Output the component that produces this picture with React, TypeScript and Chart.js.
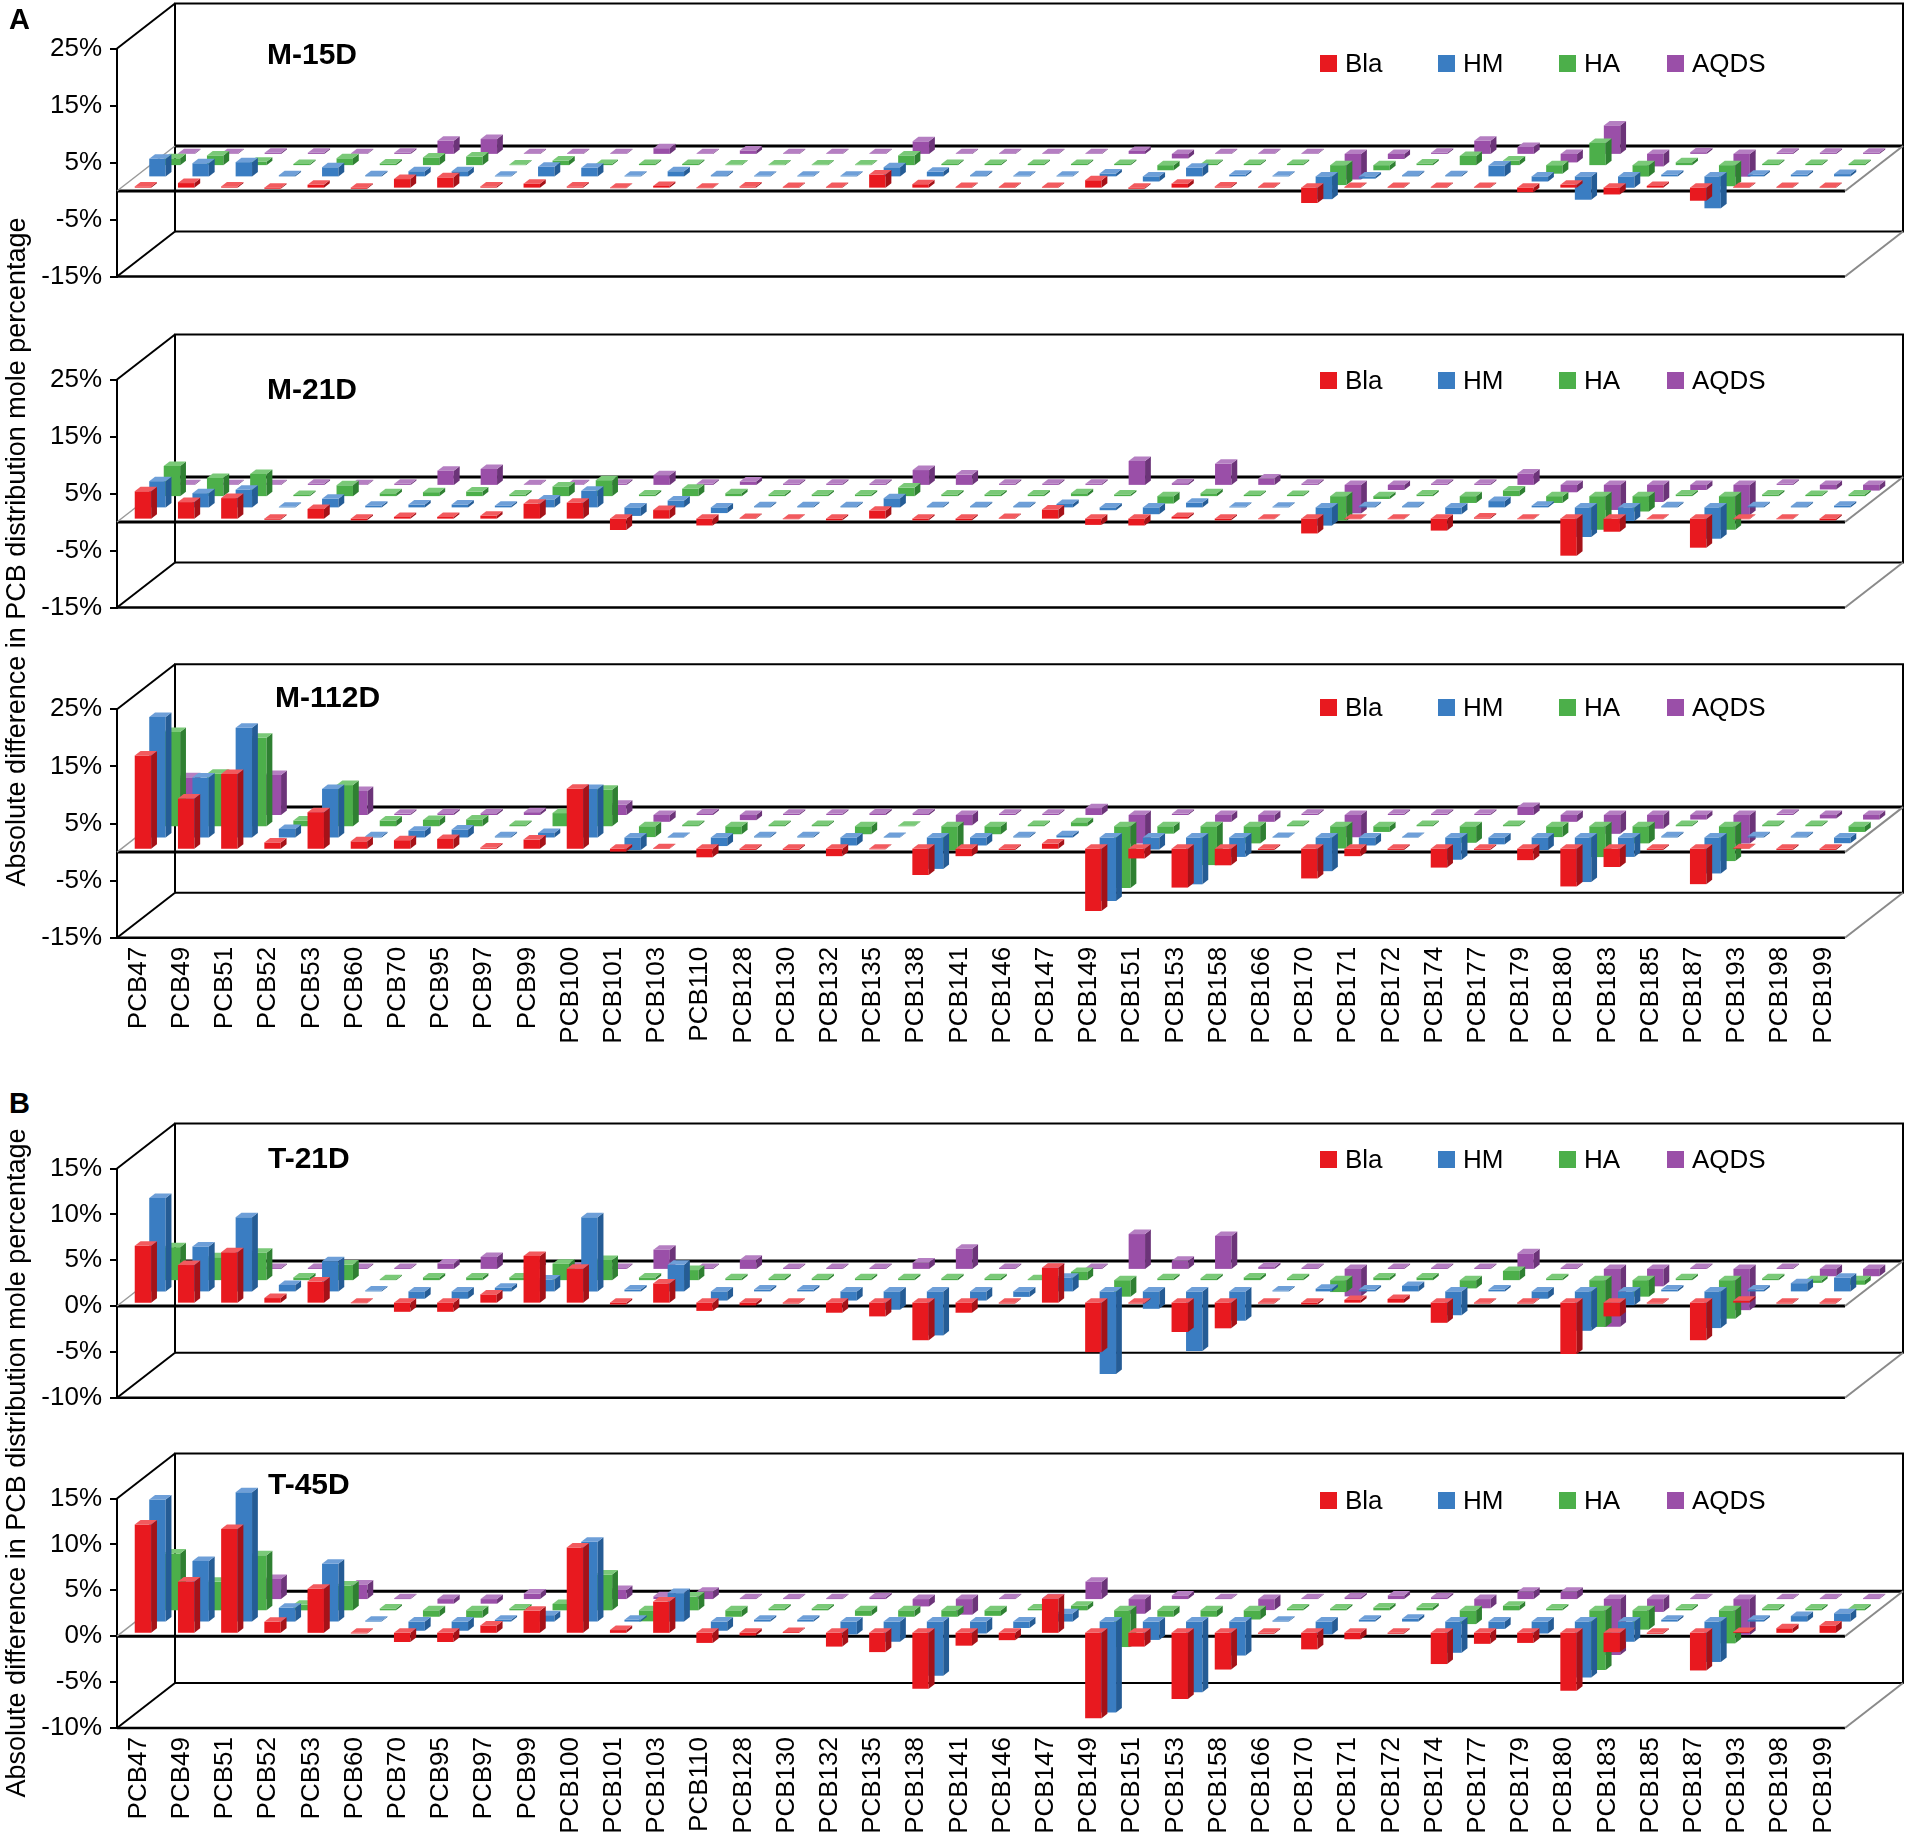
import { useEffect, useRef } from 'react';
import { Chart, registerables } from 'chart.js';

Chart.register(...registerables);

const FONT = '"Liberation Sans", Arial, Helvetica, sans-serif';
Chart.defaults.font.family = FONT;

const categories = [
  'PCB47', 'PCB49', 'PCB51', 'PCB52', 'PCB53', 'PCB60', 'PCB70', 'PCB95', 'PCB97', 'PCB99',
  'PCB100', 'PCB101', 'PCB103', 'PCB110', 'PCB128', 'PCB130', 'PCB132', 'PCB135', 'PCB138', 'PCB141',
  'PCB146', 'PCB147', 'PCB149', 'PCB151', 'PCB153', 'PCB158', 'PCB166', 'PCB170', 'PCB171', 'PCB172',
  'PCB174', 'PCB177', 'PCB179', 'PCB180', 'PCB183', 'PCB185', 'PCB187', 'PCB193', 'PCB198', 'PCB199',
];

const seriesNames = ['Bla', 'HM', 'HA', 'AQDS'];
const frontColors = ['#E8191F', '#3A7DC2', '#4CAF4A', '#9A4FA8'];
const topColors = ['#F25A5E', '#6E9FD8', '#7AC978', '#B57FC2'];
const sideColors = ['#A51218', '#255C95', '#2F8032', '#6C3479'];

const yTicksA = [-15, -5, 5, 15, 25];
const yTicksB = [-10, -5, 0, 5, 10, 15];

// M-15D
const m15Bla = [0.2, 0.8, 0.2, -0.2, 0.5, -0.2, 1.5, 1.8, 0.2, 0.7, 0.2, -0.1, 0.3, -0.1, 0.2, 0.1, 0.1, 2.3, 0.6, 0.1, 0.1, 0.1, 1.3, -0.2, 0.7, 0.2, 0.1, -2.7, 0.1, 0.1, 0.1, 0.1, -0.8, 0.5, -1.2, 0.3, -2.3, 0.1, 0.1, 0.1];
const m15HM = [3.1, 2.3, 2.5, 0.2, 1.6, 0.2, 0.9, 0.9, 0.1, 1.7, 1.5, 0.1, 0.9, 0.2, 0.1, 0.1, 0.1, 1.6, 0.8, 0.2, 0.1, 0.1, 0.5, -0.9, 1.5, 0.3, 0.1, -4.0, -0.4, 0.2, 0.2, 1.9, -0.9, -4.1, -2.0, 0.3, -5.6, 0.3, 0.3, 0.4];
const m15HA = [1.2, 1.7, 0.6, 0.2, 1.2, 0.3, 1.35, 1.5, 0.1, 0.8, 0.2, 0.2, 0.2, 0.1, 0.1, 0.1, 0.1, 1.7, 0.2, 0.2, 0.2, 0.2, 0.2, -0.9, 0.2, 0.2, 0.2, -3.5, -0.9, 0.3, 1.6, 0.8, -1.5, 3.9, -2.0, 0.5, -3.7, 0.2, 0.2, 0.2];
const m15AQDS = [0.1, 0.1, 0.2, 0.2, 0.1, 0.2, 2.3, 2.6, 0.1, 0.1, 0.1, 1.0, 0.1, 0.6, 0.1, 0.1, 0.1, 2.2, 0.1, 0.1, 0.1, 0.1, 0.5, -0.8, 0.1, 0.1, 0.1, -4.5, -0.9, 0.2, 2.3, 1.2, -1.5, 5.0, -2.2, 0.3, -4.0, 0.2, 0.2, 0.2];

// M-21D
const m21Bla = [4.8, 2.9, 3.6, -0.2, 1.7, -0.3, 0.3, 0.3, 0.5, 2.6, 2.8, -2.0, 1.5, -1.2, 0.1, 0, -0.3, 1.4, -0.3, -0.3, 0.1, 1.6, -1.1, -1.2, 0.3, -0.3, 0, -2.6, -0.1, 0, -2.1, 0.2, -0.1, -6.5, -2.3, -0.1, -5.1, -0.1, 0, -0.3];
const m21HM = [4.6, 2.5, 3.1, 0.1, 1.5, 0.3, 0.5, 0.5, 0.3, 1.4, 2.9, -1.5, 1.2, -1.0, 0.2, 0.2, 0.2, 1.6, 0.2, 0.2, 0.2, 0.6, -0.5, -1.2, 0.8, 0.1, 0.1, -3.2, 0.2, 0.2, -1.2, 1.1, 0.3, -5.2, -2.4, 0.2, -5.5, 0.2, 0.2, 0.3];
const m21HA = [5.3, 3.2, 3.9, 0.2, 1.9, 0.5, 0.7, 0.8, 0.3, 1.7, 2.8, 0.3, 1.3, 0.5, 0.3, 0.3, 0.3, 1.5, 0.3, 0.3, 0.3, 0.5, 0.3, -1.3, 0.5, 0.2, 0.2, -4.3, -0.5, 0.3, -1.2, 1.0, -1.2, -5.9, -2.7, 0.3, -5.9, 0.3, 0.2, 0.3];
const m21AQDS = [0.1, 0.1, 0.1, 0.2, 0.1, 0.2, 2.5, 2.8, 0.1, 0.1, 0.2, 1.7, 0.2, 0.6, 0.2, 0.2, 0.2, 2.6, 1.8, 0.2, 0.2, 0.2, 4.2, 0.3, 3.7, 1.1, 0.2, -5.0, -0.9, 0.2, 0.2, 2.0, -1.3, -4.4, -3.0, -0.9, -5.3, 0.2, -0.8, -1.0];

// M-112D
const m112Bla = [16.3, 8.8, 13.1, 1.1, 6.4, 1.3, 1.5, 1.7, 0.2, 1.6, 10.5, -0.5, 0.1, -1.5, -0.2, -0.2, -1.3, -0.1, -4.6, -1.3, -0.2, 0.9, -10.9, -1.7, -6.8, -2.9, -0.2, -5.2, -1.3, -0.2, -3.3, -0.2, -2.0, -6.6, -3.2, -0.2, -6.2, 0.1, -0.2, -0.2];
const m112HM = [21.1, 10.5, 19.2, 1.5, 8.5, 0.2, 1.2, 1.4, 0.2, 0.8, 8.5, -2.2, 0.1, -1.5, 0.2, 0.2, -1.4, 0.1, -5.5, -1.4, 0.2, 0.4, -11.1, -2.1, -8.2, -3.4, 0.1, -5.9, -1.4, 0.1, -3.9, -1.2, -2.2, -7.8, -3.4, 0.2, -6.3, 0.2, 0.2, -1.0];
const m112HA = [16.5, 9.2, 15.5, 1.0, 7.2, 1.0, 1.1, 1.2, 0.2, 2.3, 6.4, -1.9, 0.2, -1.4, 0.2, 0.2, -1.4, 0.1, -4.2, -1.4, 0.2, 0.7, -10.8, -1.3, -6.8, -3.0, 0.2, -3.9, -1.0, 0.2, -2.9, 0.2, -1.9, -5.4, -3.0, 0.2, -6.1, 0.2, 0.2, -1.0];
const m112AQDS = [6.6, 5.0, 7.0, 0.3, 4.2, 0.2, 0.3, 0.3, 0.5, 0.3, 1.8, -1.2, 0.3, -0.9, 0.2, 0.2, 0.3, 0.3, -1.8, 0.2, 0.2, 1.2, -5.0, 0.2, -1.2, -1.2, 0.2, -3.9, 0.2, 0.2, 0.2, 1.4, -1.2, -3.3, -2.4, -0.8, -5.0, 0.2, -0.6, -0.8];

// T-21D
const t21Bla = [6.2, 4.1, 5.5, 0.5, 2.3, 0, -1.0, -1.0, 0.9, 5.1, 3.7, -0.2, 2.1, -0.9, -0.3, -0.1, -1.1, -1.5, -4.1, -1.1, -0.1, 3.8, -5.4, -0.1, -3.2, -2.8, -0.1, -0.2, 0.3, 0.4, -2.2, -0.1, -0.1, -5.6, -1.5, -0.1, -4.1, 0.2, -0.1, -0.1];
const t21HM = [10.2, 4.9, 8.1, 0.7, 3.3, 0.1, -0.8, -0.8, 0.4, 1.3, 8.1, 0.2, 2.9, -1.0, 0.2, 0.2, -1.0, -2.0, -4.8, -1.0, -0.6, 1.5, -9.0, -1.9, -6.5, -3.2, 0.1, 0.3, 0.2, 0.6, -2.6, 0.2, -0.8, -4.3, -1.5, 0.2, -4.0, 0.2, 0.9, 1.5];
const t21HA = [3.6, 2.5, 3.0, 0.3, 1.7, 0.1, 0.3, 0.3, 0.3, 1.8, 2.2, 0.3, 1.1, 0.2, 0.2, 0.2, 0.2, 0.2, 0.2, 0.2, 0.1, 0.9, -1.8, 0.2, 0.2, 0.3, 0.2, -1.3, 0.3, 0.3, -0.9, 1.0, 0.2, -5.1, -1.8, 0.2, -4.2, 0.2, -0.3, -0.5];
const t21AQDS = [0.3, 0.1, 0.1, 0.1, 0.1, 0.1, 0.6, 1.3, 0.2, 0.2, 0.1, 2.1, 0.1, 1.0, 0.1, 0.1, 0.1, 0.7, 2.2, 0.1, 0.1, 0.1, 3.8, 0.9, 3.6, 0.2, 0.1, -3.0, 0.1, 0.1, 0.1, 1.7, 0.1, -6.3, -1.9, 0.1, -4.5, 0.1, -0.8, -0.8];

// T-45D
const t45Bla = [11.8, 5.6, 11.3, 1.2, 4.8, 0, -1.0, -1.0, 0.8, 2.4, 9.3, 0.3, 3.4, -1.1, -0.3, 0.1, -1.5, -2.1, -6.1, -1.4, -0.8, 3.7, -9.3, -1.5, -7.2, -4.0, -0.1, -1.8, -0.7, -0.1, -3.4, -1.2, -1.1, -6.3, -2.1, -0.1, -4.1, 0.1, 0.5, 0.8];
const t45HM = [13.3, 6.6, 14.1, 1.5, 6.3, 0.1, -1.0, -1.0, 0.2, 0.7, 8.7, 0.2, 3.1, -1.0, 0.2, 0.2, -1.4, -2.2, -5.9, -1.3, -0.7, 0.9, -9.9, -2.0, -7.7, -3.7, 0.1, -1.4, 0.2, 0.3, -3.4, -0.8, -1.3, -6.1, -2.2, 0.2, -4.4, 0.2, 0.6, 0.9];
const t45HA = [6.2, 3.1, 6.0, 0.6, 2.7, 0.2, -0.7, -0.8, 0.2, 0.7, 3.9, -1.2, 1.5, -0.7, 0.2, 0.2, -0.6, -0.7, -0.7, -0.6, 0.2, 0.5, -4.0, -0.7, -0.7, -1.0, 0.2, 0.2, 0.3, 0.3, -1.5, 0.5, 0.2, -6.5, -2.1, 0.2, -3.6, 0.2, 0.2, 0.2];
const t45AQDS = [1.5, 1.0, 2.2, 0.2, 1.6, 0.1, -0.5, -0.5, 0.6, 0.2, 1.0, 0.3, 0.8, 0.1, 0.1, 0.1, 0.2, -0.8, -1.7, 0.1, 0.1, 1.9, -1.6, 0.4, 0.1, -1.2, 0.1, 0.2, 0.4, 0.2, -1.0, 0.8, 0.8, -6.1, -1.4, 0.1, -3.9, 0.1, 0.1, 0.1];

// depth of the 3D box (px) and plot frame
const DX = 58;
const DY = 45;
const PLOT_LEFT = 117;
const PAD_RIGHT = 60;
const PAD_BOTTOM = 32;
const WIDTH = 1905;

const legendSquareX = [1320, 1438, 1559, 1667];
const legendTextX = [1345, 1463, 1584, 1692];

interface PanelDef {
  title: string;
  values: number[][];
  yMin: number;
  yMax: number;
  yTicks: number[];
  frontTop: number;
  plotH: number;
  bottomEdge?: number;
  labels: boolean;
  titleX: number;
  titleY: number;
  legendY: number;
}

const panels: PanelDef[] = [
  { title: 'M-15D', values: [m15Bla, m15HM, m15HA, m15AQDS], yMin: -15, yMax: 25, yTicks: yTicksA, frontTop: 48.5, plotH: 228, labels: false, titleX: 267, titleY: 54, legendY: 63 },
  { title: 'M-21D', values: [m21Bla, m21HM, m21HA, m21AQDS], yMin: -15, yMax: 25, yTicks: yTicksA, frontTop: 379.5, plotH: 228, labels: false, titleX: 267, titleY: 389, legendY: 380 },
  { title: 'M-112D', values: [m112Bla, m112HM, m112HA, m112AQDS], yMin: -15, yMax: 25, yTicks: yTicksA, frontTop: 709.3, plotH: 228.5, bottomEdge: 1050, labels: true, titleX: 275, titleY: 697, legendY: 707 },
  { title: 'T-21D', values: [t21Bla, t21HM, t21HA, t21AQDS], yMin: -10, yMax: 15, yTicks: yTicksB, frontTop: 1168.5, plotH: 229.2, labels: false, titleX: 268, titleY: 1158, legendY: 1159 },
  { title: 'T-45D', values: [t45Bla, t45HM, t45HA, t45AQDS], yMin: -10, yMax: 15, yTicks: yTicksB, frontTop: 1498.5, plotH: 229.5, bottomEdge: 1834, labels: true, titleX: 268, titleY: 1484, legendY: 1500 },
];

function strokePath(ctx: CanvasRenderingContext2D, pts: number[][], color: string, width: number) {
  ctx.beginPath();
  ctx.moveTo(pts[0][0], pts[0][1]);
  for (let k = 1; k < pts.length; k++) ctx.lineTo(pts[k][0], pts[k][1]);
  ctx.strokeStyle = color;
  ctx.lineWidth = width;
  ctx.stroke();
}

function fillPoly(ctx: CanvasRenderingContext2D, pts: number[][], color: string) {
  ctx.beginPath();
  ctx.moveTo(pts[0][0], pts[0][1]);
  for (let k = 1; k < pts.length; k++) ctx.lineTo(pts[k][0], pts[k][1]);
  ctx.closePath();
  ctx.fillStyle = color;
  ctx.fill();
}

const depthPlugin = {
  id: 'depth3d',
  beforeDatasetsDraw(chart: any) {
    const { ctx, chartArea } = chart;
    const { left, right, top, bottom } = chartArea;
    const y0 = chart.scales.y.getPixelForValue(0);
    ctx.save();
    // back wall
    strokePath(ctx, [[left + DX, bottom - DY], [left + DX, top - DY], [right + DX, top - DY], [right + DX, bottom - DY], [left + DX, bottom - DY]], '#000', 2);
    strokePath(ctx, [[left, top], [left + DX, top - DY]], '#000', 2);
    strokePath(ctx, [[left, bottom], [left + DX, bottom - DY]], '#000', 2);
    strokePath(ctx, [[left, bottom], [right, bottom]], '#000', 2.5);
    strokePath(ctx, [[right, bottom], [right + DX, bottom - DY]], '#8a8a8a', 2);
    // zero plane
    strokePath(ctx, [[left, y0], [right, y0]], '#000', 3);
    strokePath(ctx, [[left + DX, y0 - DY], [right + DX, y0 - DY]], '#000', 3);
    strokePath(ctx, [[left, y0], [left + DX, y0 - DY]], '#9a9a9a', 1.5);
    strokePath(ctx, [[right, y0], [right + DX, y0 - DY]], '#8a8a8a', 2);
    ctx.restore();
  },
  afterDatasetsDraw(chart: any) {
    const { ctx, chartArea } = chart;
    const xs = chart.scales.x;
    const ys = chart.scales.y;
    const n = chart.data.labels.length;
    const bw = ((chartArea.right - chartArea.left) / n) * 0.38;
    ctx.save();
    for (let i = chart.data.datasets.length - 1; i >= 0; i--) {
      const f0 = (i + 0.3) / 4;
      const f1 = (i + 0.7) / 4;
      const ox = DX * f0;
      const oy = DY * f0;
      const ddx = DX * (f1 - f0);
      const ddy = DY * (f1 - f0);
      const data = chart.data.datasets[i].data as number[];
      data.forEach((v, j) => {
        const cx = xs.getPixelForValue(j) + ox;
        const xl = cx - bw / 2;
        const xr = cx + bw / 2;
        const yv = ys.getPixelForValue(v) - oy;
        const yb = ys.getPixelForValue(0) - oy;
        const yt = Math.min(yv, yb);
        const ybot = Math.max(yv, yb, yt + 0.6);
        fillPoly(ctx, [[xl, yt], [xr, yt], [xr, ybot], [xl, ybot]], frontColors[i]);
        fillPoly(ctx, [[xr, yt], [xr + ddx, yt - ddy], [xr + ddx, ybot - ddy], [xr, ybot]], sideColors[i]);
        fillPoly(ctx, [[xl, yt], [xr, yt], [xr + ddx, yt - ddy], [xl + ddx, yt - ddy]], topColors[i]);
      });
    }
    ctx.restore();
  },
};

function Panel({ p }: { p: PanelDef }) {
  const ref = useRef<HTMLCanvasElement>(null);
  const canvasTop = Math.floor(p.frontTop - 48);
  const padTop = p.frontTop - canvasTop;
  const height = p.labels ? (p.bottomEdge as number) - canvasTop : Math.ceil(padTop + p.plotH + PAD_BOTTOM);
  const rest = height - padTop - p.plotH;

  useEffect(() => {
    if (!ref.current) return;
    const xScale: any = {
      type: 'category',
      display: p.labels,
      offset: true,
      grid: { display: false, drawTicks: false },
      border: { display: false },
      ticks: {
        autoSkip: false,
        maxRotation: 90,
        minRotation: 90,
        padding: 9,
        color: '#000',
        font: { size: 26, family: FONT },
      },
    };
    if (p.labels) {
      xScale.afterFit = (s: any) => {
        s.height = rest;
      };
    }
    const chart = new Chart(ref.current, {
      type: 'bar',
      data: {
        labels: categories,
        datasets: seriesNames.map((name, i) => ({
          label: name,
          data: p.values[i],
          backgroundColor: 'rgba(0,0,0,0)',
          borderWidth: 0,
        })),
      },
      options: {
        animation: false,
        responsive: false,
        events: [],
        layout: { padding: { top: padTop, right: PAD_RIGHT, bottom: p.labels ? 0 : rest, left: 0 } },
        plugins: {
          legend: { display: false },
          tooltip: { enabled: false },
        },
        scales: {
          x: xScale,
          y: {
            min: p.yMin,
            max: p.yMax,
            afterBuildTicks: (s: any) => {
              s.ticks = p.yTicks.map((v) => ({ value: v }));
            },
            afterFit: (s: any) => {
              s.width = PLOT_LEFT;
            },
            grid: { display: true, drawOnChartArea: false, drawTicks: true, tickLength: 7, color: '#000', lineWidth: 2 },
            border: { display: true, color: '#000', width: 2 },
            ticks: {
              padding: 8,
              color: '#000',
              font: { size: 26, family: FONT },
              callback: (v: any) => `${v}%`,
            },
          },
        },
      } as any,
      plugins: [depthPlugin],
    });
    return () => chart.destroy();
  }, [p]);

  return (
    <>
      <div style={{ position: 'absolute', left: 0, top: canvasTop, width: WIDTH, height }}>
        <canvas ref={ref} width={WIDTH} height={height} style={{ display: 'block' }} />
      </div>
      <div style={{ position: 'absolute', left: p.titleX, top: p.titleY - 15, fontFamily: FONT, fontWeight: 'bold', fontSize: 30, lineHeight: '30px', color: '#000', whiteSpace: 'nowrap' }}>
        {p.title}
      </div>
      {seriesNames.map((name, i) => (
        <div key={name}>
          <div style={{ position: 'absolute', left: legendSquareX[i], top: p.legendY - 8.5, width: 17, height: 17, background: frontColors[i] }} />
          <div style={{ position: 'absolute', left: legendTextX[i], top: p.legendY - 13, fontFamily: FONT, fontSize: 26, lineHeight: '26px', color: '#000', whiteSpace: 'nowrap' }}>
            {name}
          </div>
        </div>
      ))}
    </>
  );
}

const yTitle = 'Absolute difference in PCB distribution mole percentage';

function YTitle({ cy }: { cy: number }) {
  const w = 900;
  return (
    <div
      style={{
        position: 'absolute',
        left: 16 - w / 2,
        top: cy - 16,
        width: w,
        height: 32,
        lineHeight: '32px',
        textAlign: 'center',
        fontFamily: FONT,
        fontSize: 27,
        color: '#000',
        transform: 'rotate(-90deg)',
        transformOrigin: 'center center',
        whiteSpace: 'nowrap',
      }}
    >
      {yTitle}
    </div>
  );
}

export default function App() {
  return (
    <div style={{ position: 'absolute', left: 0, top: 0, width: WIDTH, height: 1834, background: '#fff', overflow: 'hidden' }}>
      {panels.map((p) => (
        <Panel key={p.title} p={p} />
      ))}
      <div style={{ position: 'absolute', left: 9, top: 4, fontFamily: FONT, fontWeight: 'bold', fontSize: 29, lineHeight: '30px' }}>A</div>
      <div style={{ position: 'absolute', left: 9, top: 1088, fontFamily: FONT, fontWeight: 'bold', fontSize: 29, lineHeight: '30px' }}>B</div>
      <YTitle cy={552} />
      <YTitle cy={1463} />
    </div>
  );
}
